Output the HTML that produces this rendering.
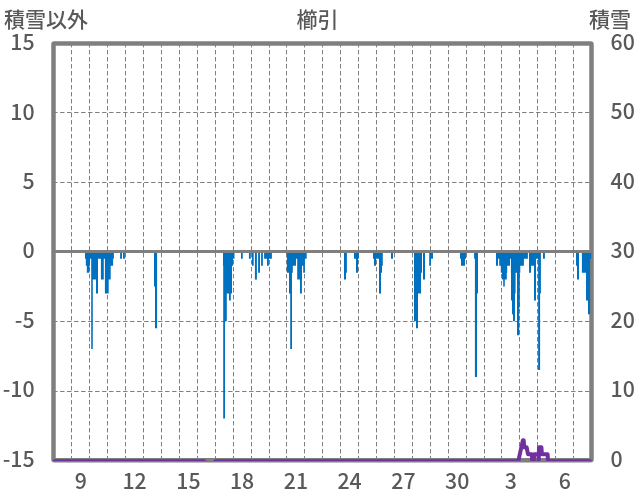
<!DOCTYPE html>
<html><head><meta charset="utf-8"><style>
html,body{margin:0;padding:0;background:#fff;width:636px;height:501px;overflow:hidden}
svg{display:block}
text{font-family:"Noto Sans CJK JP","Liberation Sans",sans-serif;font-size:21.3px;font-weight:500;fill:#595959}
.cj{font-size:21px}
.g{stroke:#7f7f7f;stroke-width:1;stroke-dasharray:3.6 3.4;stroke-linecap:round;fill:none}
</style></head><body>
<svg width="636" height="501" viewBox="0 0 636 501">
<defs><clipPath id="pc"><rect x="40" y="43.4" width="560" height="417.50"/></clipPath></defs>
<rect width="636" height="501" fill="#fff"/>
<line x1="53.5" y1="112.50" x2="591.5" y2="112.50" class="g"/>
<line x1="53.5" y1="182.50" x2="591.5" y2="182.50" class="g"/>
<line x1="53.5" y1="321.50" x2="591.5" y2="321.50" class="g"/>
<line x1="53.5" y1="391.50" x2="591.5" y2="391.50" class="g"/>
<line x1="71.50" y1="43.4" x2="71.50" y2="460.25" class="g"/>
<line x1="89.50" y1="43.4" x2="89.50" y2="460.25" class="g"/>
<line x1="107.50" y1="43.4" x2="107.50" y2="460.25" class="g"/>
<line x1="125.50" y1="43.4" x2="125.50" y2="460.25" class="g"/>
<line x1="143.50" y1="43.4" x2="143.50" y2="460.25" class="g"/>
<line x1="161.50" y1="43.4" x2="161.50" y2="460.25" class="g"/>
<line x1="179.50" y1="43.4" x2="179.50" y2="460.25" class="g"/>
<line x1="197.50" y1="43.4" x2="197.50" y2="460.25" class="g"/>
<line x1="215.50" y1="43.4" x2="215.50" y2="460.25" class="g"/>
<line x1="233.50" y1="43.4" x2="233.50" y2="460.25" class="g"/>
<line x1="251.50" y1="43.4" x2="251.50" y2="460.25" class="g"/>
<line x1="269.50" y1="43.4" x2="269.50" y2="460.25" class="g"/>
<line x1="286.50" y1="43.4" x2="286.50" y2="460.25" class="g"/>
<line x1="304.50" y1="43.4" x2="304.50" y2="460.25" class="g"/>
<line x1="322.50" y1="43.4" x2="322.50" y2="460.25" class="g"/>
<line x1="340.50" y1="43.4" x2="340.50" y2="460.25" class="g"/>
<line x1="358.50" y1="43.4" x2="358.50" y2="460.25" class="g"/>
<line x1="376.50" y1="43.4" x2="376.50" y2="460.25" class="g"/>
<line x1="394.50" y1="43.4" x2="394.50" y2="460.25" class="g"/>
<line x1="412.50" y1="43.4" x2="412.50" y2="460.25" class="g"/>
<line x1="430.50" y1="43.4" x2="430.50" y2="460.25" class="g"/>
<line x1="448.50" y1="43.4" x2="448.50" y2="460.25" class="g"/>
<line x1="466.50" y1="43.4" x2="466.50" y2="460.25" class="g"/>
<line x1="484.50" y1="43.4" x2="484.50" y2="460.25" class="g"/>
<line x1="501.50" y1="43.4" x2="501.50" y2="460.25" class="g"/>
<line x1="519.50" y1="43.4" x2="519.50" y2="460.25" class="g"/>
<line x1="537.50" y1="43.4" x2="537.50" y2="460.25" class="g"/>
<line x1="555.50" y1="43.4" x2="555.50" y2="460.25" class="g"/>
<line x1="573.50" y1="43.4" x2="573.50" y2="460.25" class="g"/>
<rect x="53.5" y="43.4" width="538.00" height="416.85" fill="none" stroke="#7f7f7f" stroke-width="4.5" rx="0.8"/>
<g fill="#0070c0">
<path d="M85.00,251.83 L85.00,258.77 L85.80,258.77 L85.80,265.72 L86.80,265.72 L86.80,272.67 L89.40,272.67 L89.40,265.72 L90.00,265.72 L90.00,258.77 L91.20,258.77 L91.20,349.09 L92.80,349.09 L92.80,279.62 L96.00,279.62 L96.00,293.51 L98.00,293.51 L98.00,258.77 L100.90,258.77 L100.90,279.62 L103.80,279.62 L103.80,258.77 L104.90,258.77 L104.90,293.51 L108.70,293.51 L108.70,279.62 L110.70,279.62 L110.70,265.72 L113.10,265.72 L113.10,258.77 L113.90,258.77 L113.90,251.83Z"/>
<path d="M120.10,251.83 L120.10,258.77 L122.00,258.77 L122.00,251.83Z"/>
<path d="M123.00,251.83 L123.00,258.77 L124.90,258.77 L124.90,251.83Z"/>
<path d="M154.00,251.83 L154.00,286.56 L155.00,286.56 L155.00,328.25 L157.10,328.25 L157.10,251.83Z"/>
<path d="M223.00,251.83 L223.00,265.72 L223.20,265.72 L223.20,418.57 L225.00,418.57 L225.00,321.30 L226.80,321.30 L226.80,293.51 L229.00,293.51 L229.00,300.46 L230.80,300.46 L230.80,293.51 L232.00,293.51 L232.00,265.72 L233.00,265.72 L233.00,258.77 L234.50,258.77 L234.50,251.83Z"/>
<path d="M241.00,251.83 L241.00,258.77 L242.80,258.77 L242.80,251.83Z"/>
<path d="M248.90,251.83 L248.90,258.77 L250.80,258.77 L250.80,251.83Z"/>
<path d="M252.00,251.83 L252.00,265.72 L253.70,265.72 L253.70,251.83Z"/>
<path d="M254.90,251.83 L254.90,279.62 L256.90,279.62 L256.90,251.83Z"/>
<path d="M258.10,251.83 L258.10,272.67 L260.00,272.67 L260.00,251.83Z"/>
<path d="M261.10,251.83 L261.10,265.72 L262.90,265.72 L262.90,251.83Z"/>
<path d="M264.10,251.83 L264.10,258.77 L267.00,258.77 L267.00,265.72 L268.90,265.72 L268.90,258.77 L271.90,258.77 L271.90,251.83Z"/>
<path d="M286.90,251.83 L286.90,272.67 L289.00,272.67 L289.00,293.51 L290.20,293.51 L290.20,349.09 L292.00,349.09 L292.00,272.67 L292.80,272.67 L292.80,265.72 L296.00,265.72 L296.00,258.77 L297.20,258.77 L297.20,279.62 L300.00,279.62 L300.00,293.51 L301.90,293.51 L301.90,279.62 L302.00,279.62 L302.00,265.72 L303.20,265.72 L303.20,272.67 L304.90,272.67 L304.90,258.77 L306.70,258.77 L306.70,251.83Z"/>
<path d="M344.00,251.83 L344.00,279.62 L346.00,279.62 L346.00,272.67 L346.90,272.67 L346.90,251.83Z"/>
<path d="M354.00,251.83 L354.00,258.77 L356.00,258.77 L356.00,272.67 L358.00,272.67 L358.00,258.77 L358.90,258.77 L358.90,251.83Z"/>
<path d="M373.00,251.83 L373.00,258.77 L374.00,258.77 L374.00,265.72 L376.00,265.72 L376.00,258.77 L379.00,258.77 L379.00,293.51 L381.00,293.51 L381.00,272.67 L382.00,272.67 L382.00,265.72 L382.80,265.72 L382.80,251.83Z"/>
<path d="M391.00,251.83 L391.00,258.77 L393.00,258.77 L393.00,251.83Z"/>
<path d="M414.00,251.83 L414.00,321.30 L416.00,321.30 L416.00,328.25 L418.00,328.25 L418.00,293.51 L421.00,293.51 L421.00,272.67 L422.00,272.67 L422.00,251.83Z"/>
<path d="M423.00,251.83 L423.00,279.62 L425.00,279.62 L425.00,251.83Z"/>
<path d="M429.20,251.83 L429.20,265.72 L431.00,265.72 L431.00,258.77 L433.00,258.77 L433.00,251.83Z"/>
<path d="M460.00,251.83 L460.00,258.77 L461.00,258.77 L461.00,265.72 L465.00,265.72 L465.00,258.77 L466.00,258.77 L466.00,251.83Z"/>
<path d="M474.10,251.83 L474.10,258.77 L474.90,258.77 L474.90,376.88 L477.00,376.88 L477.00,293.51 L478.00,293.51 L478.00,251.83Z"/>
<path d="M496.00,251.83 L496.00,265.72 L498.00,265.72 L498.00,258.77 L499.20,258.77 L499.20,265.72 L500.80,265.72 L500.80,272.67 L502.00,272.67 L502.00,279.62 L503.20,279.62 L503.20,286.56 L504.80,286.56 L504.80,279.62 L506.80,279.62 L506.80,272.67 L507.20,272.67 L507.20,265.72 L510.00,265.72 L510.00,258.77 L510.90,258.77 L510.90,272.67 L511.00,272.67 L511.00,300.46 L512.00,300.46 L512.00,314.35 L513.00,314.35 L513.00,321.30 L515.00,321.30 L515.00,293.51 L515.60,293.51 L515.60,272.67 L517.00,272.67 L517.00,335.20 L519.20,335.20 L519.20,307.41 L519.80,307.41 L519.80,272.67 L520.30,272.67 L520.30,265.72 L523.90,265.72 L523.90,258.77 L527.90,258.77 L527.90,251.83Z"/>
<path d="M529.00,251.83 L529.00,272.67 L531.00,272.67 L531.00,265.72 L534.00,265.72 L534.00,300.46 L536.00,300.46 L536.00,258.77 L538.10,258.77 L538.10,369.93 L540.10,369.93 L540.10,293.51 L540.80,293.51 L540.80,293.51 L540.90,293.51 L540.90,251.83Z"/>
<path d="M543.00,251.83 L543.00,258.77 L544.90,258.77 L544.90,251.83Z"/>
<path d="M576.00,251.83 L576.00,265.72 L577.00,265.72 L577.00,279.62 L579.00,279.62 L579.00,251.83Z"/>
<path d="M581.90,251.83 L581.90,272.67 L586.00,272.67 L586.00,300.46 L588.00,300.46 L588.00,314.35 L590.10,314.35 L590.10,258.77 L591.20,258.77 L591.20,251.83Z"/>
</g>
<line x1="53.5" y1="251.5" x2="591.5" y2="251.5" stroke="#7f7f7f" stroke-width="3"/>
<path clip-path="url(#pc)" d="M54.80,461.15 L203.90,461.15 L211.00,467.19 L215.60,461.15 L518.30,461.15 L522.85,440.31 L523.70,440.31 L524.20,447.25 L526.60,447.25 L528.00,454.20 L531.90,454.20 L532.20,461.15 L533.80,461.15 L534.10,454.20 L538.30,454.20 L538.70,461.15 L539.00,447.25 L541.40,447.25 L541.90,454.20 L547.60,454.20 L548.00,461.15 L589.90,461.15" fill="none" stroke="#7030a0" stroke-width="4" stroke-linejoin="round" stroke-linecap="round"/>
<text class="cj" x="4" y="27">積雪以外</text>
<text class="cj" x="317.6" y="26.6" text-anchor="middle">櫛引</text>
<text class="cj" x="589" y="27">積雪</text>
<text x="34.6" y="50.0" text-anchor="end">15</text>
<text x="34.6" y="119.5" text-anchor="end">10</text>
<text x="34.6" y="189.0" text-anchor="end">5</text>
<text x="34.6" y="258.4" text-anchor="end">0</text>
<text x="34.6" y="327.9" text-anchor="end">-5</text>
<text x="34.6" y="397.4" text-anchor="end">-10</text>
<text x="34.6" y="466.9" text-anchor="end">-15</text>
<text x="610.6" y="49.9">60</text>
<text x="610.6" y="119.4">50</text>
<text x="610.6" y="188.9">40</text>
<text x="610.6" y="258.3">30</text>
<text x="610.6" y="327.8">20</text>
<text x="610.6" y="397.3">10</text>
<text x="610.6" y="466.8">0</text>
<text x="80.9" y="488.8" text-anchor="middle">9</text>
<text x="134.6" y="488.8" text-anchor="middle">12</text>
<text x="188.4" y="488.8" text-anchor="middle">15</text>
<text x="242.1" y="488.8" text-anchor="middle">18</text>
<text x="295.9" y="488.8" text-anchor="middle">21</text>
<text x="349.6" y="488.8" text-anchor="middle">24</text>
<text x="403.4" y="488.8" text-anchor="middle">27</text>
<text x="457.2" y="488.8" text-anchor="middle">30</text>
<text x="510.9" y="488.8" text-anchor="middle">3</text>
<text x="564.7" y="488.8" text-anchor="middle">6</text>
</svg>
</body></html>
